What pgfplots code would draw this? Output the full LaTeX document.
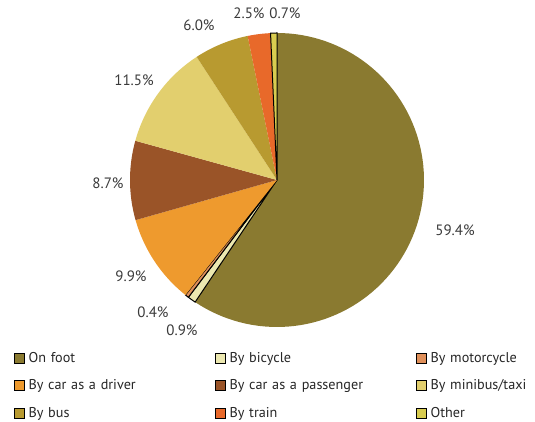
\documentclass[border=0pt]{standalone}
\usepackage{pgfplots}
\usepackage{pgfplotstable}
\pgfplotsset{compat=1.18}
\usepackage{fontspec}
\setmainfont{PT Sans}
\definecolor{c0}{HTML}{8A7A30}
\definecolor{c1}{HTML}{ECE8B0}
\definecolor{c2}{HTML}{E0905A}
\definecolor{c3}{HTML}{EE9A2E}
\definecolor{c4}{HTML}{9A5428}
\definecolor{c5}{HTML}{E2CF6E}
\definecolor{c6}{HTML}{B89A30}
\definecolor{c7}{HTML}{E8692A}
\definecolor{c8}{HTML}{D8CC50}
\definecolor{lbl}{HTML}{3A3A3A}
\tikzset{
 w0/.style={fill=c0,draw=none},
 w1/.style={fill=c1,draw=black,line width=1pt},
 w2/.style={fill=c2,draw=black,line width=1pt},
 w3/.style={fill=c3,draw=none},
 w4/.style={fill=c4,draw=none},
 w5/.style={fill=c5,draw=none},
 w6/.style={fill=c6,draw=none},
 w7/.style={fill=c7,draw=none},
 w8/.style={fill=c8,draw=black,line width=1pt},
}
\pgfplotstableread{
name pct lx ly lab
foot 59.4 455 192 59.4\%
bicycle 0.9 182 92 0.9\%
motorcycle 0.4 153 110 0.4\%
driver 9.9 131 146 9.9\%
passenger 8.7 108 239 8.7\%
taxi 11.5 134 342 11.5\%
bus 6.0 199 397 6.0\%
train 2.5 249 409 2.5\%
other 0.7 285 409 0.7\%
}\modes
\begin{document}
\begin{tikzpicture}[x=1pt,y=1pt]
\useasboundingbox (0,0) rectangle (535,422);
\def\cur{90}
\pgfplotsforeachungrouped \i in {0,...,8}{%
  \pgfplotstablegetelem{\i}{pct}\of\modes
  \pgfmathsetmacro\nxt{\cur-3.6*\pgfplotsretval}%
  \expandafter\xdef\csname s\i\endcsname{\cur}%
  \expandafter\xdef\csname e\i\endcsname{\nxt}%
  \global\let\cur\nxt
}
\begin{axis}[
  at={(0,0)}, anchor=origin,
  scale only axis, width=535pt, height=422pt,
  xmin=0, xmax=535, ymin=0, ymax=422,
  hide axis, clip=false,
  legend columns=3,
  legend cell align=left,
  legend style={draw=none, fill=none, font=\fontsize{14.2}{16}\selectfont\color{black!85},
    at={(axis cs:11,74)}, anchor=north west,
    row sep=12pt,
    /tikz/every even column/.append style={text width=184pt},
    /tikz/every odd column/.append style={column sep=2pt}},
  legend image code/.code={\draw[#1] (0pt,-5pt) rectangle (10pt,5pt);},
  legend entries={On foot, By bicycle, By motorcycle, By car as a driver, By car as a passenger, By minibus/taxi, By bus, By train, Other},
]
\pgfplotsforeachungrouped \i in {0,...,8}{%
  \edef\tmp{\noexpand\addplot[w\i, domain=\csname e\i\endcsname:\csname s\i\endcsname, samples=90]
    ({277+147*cos(x)},{242+147*sin(x)}) -- (axis cs:277,242) -- cycle;}%
  \tmp
}
\pgfplotsforeachungrouped \i in {0,...,8}{%
  \pgfplotstablegetelem{\i}{lx}\of\modes \let\lx\pgfplotsretval
  \pgfplotstablegetelem{\i}{ly}\of\modes \let\ly\pgfplotsretval
  \pgfplotstablegetelem{\i}{lab}\of\modes \let\lab\pgfplotsretval
  \edef\tmp{\noexpand\node[text=lbl, font=\noexpand\fontsize{15}{17}\noexpand\selectfont] at (axis cs:\lx,\ly) {\lab};}%
  \tmp
}
\end{axis}
\end{tikzpicture}
\end{document}
